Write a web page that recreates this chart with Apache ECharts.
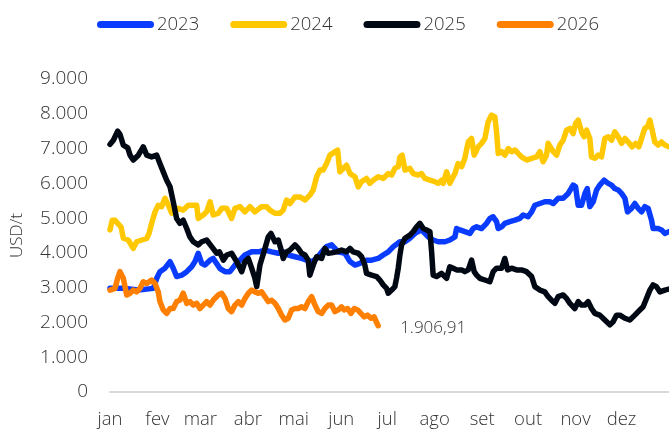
<!DOCTYPE html>
<html>
<head>
<meta charset="utf-8">
<script src="https://cdn.jsdelivr.net/npm/echarts@6/dist/echarts.min.js"></script>
<style>
  html, body { margin: 0; padding: 0; background: #ffffff; }
  #chart { width: 669px; height: 432px; }
</style>
</head>
<body>
<div id="chart"></div>
<script>
// Month labels (tick labels) and day-of-year where each month starts
const monthLabels = ['jan','fev','mar','abr','mai','jun','jul','ago','set','out','nov','dez'];
const monthStarts = [0,31,59,90,120,151,181,212,243,273,304,334];
const yTicks = [0,1000,2000,3000,4000,5000,6000,7000,8000,9000];
const seriesNames = ['2023','2024','2025','2026'];

// Series values: [day of year, USD/t]
const s2023 = [[0,2980],[9.8,2980],[18.5,2930],[28.3,2980],[30.5,3270],[32.6,3460],[35.9,3560],[39.2,3750],[41.3,3560],[43.5,3320],[46.8,3360],[50.1,3460],[53.3,3600],[55.5,3750],[57.6,3990],[59.9,3700],[62.0,3650],[65.3,3790],[67.4,3840],[68.5,3800],[71.8,3550],[75.1,3460],[78.3,3460],[81.6,3650],[84.9,3790],[88.1,3940],[92.5,4030],[96.8,4030],[101.2,4080],[105.5,4030],[109.9,3990],[113.1,4030],[116.4,3940],[120.8,3890],[125.1,3840],[128.4,3790],[131.7,3750],[134.9,3840],[138.2,4030],[141.4,4180],[144.7,4230],[149.0,4030],[153.4,3990],[156.7,3750],[159.9,3650],[163.2,3700],[167.5,3790],[170.8,3790],[175.1,3840],[178.4,3940],[181.7,4030],[185.0,4180],[189.3,4320],[192.6,4320],[195.8,4420],[199.1,4560],[203.4,4660],[205.6,4560],[207.8,4460],[211.0,4370],[214.3,4320],[218.7,4320],[221.9,4370],[225.2,4460],[226.3,4700],[228.5,4660],[231.7,4610],[235.0,4560],[237.1,4700],[239.4,4750],[242.6,4700],[245.9,4850],[248.0,4990],[250.2,5040],[252.4,4900],[253.5,4700],[255.7,4750],[257.8,4850],[261.1,4900],[264.4,4940],[267.6,4990],[269.8,5090],[273.0,5040],[275.3,5180],[277.4,5370],[280.7,5420],[283.9,5470],[287.2,5470],[289.4,5420],[292.6,5570],[295.9,5570],[299.2,5710],[302.4,5950],[304.0,5900],[305.7,5370],[307.9,5370],[310.1,5710],[311.6,5850],[313.3,5330],[315.5,5470],[317.7,5810],[319.8,5950],[322.6,6090],[325.3,6000],[327.5,5950],[329.6,5850],[331.8,5810],[334.0,5710],[336.2,5570],[337.9,5180],[340.5,5280],[342.7,5420],[344.9,5280],[347.1,5180],[349.2,5330],[351.4,5280],[353.6,4940],[354.6,4700],[357.9,4700],[360.1,4660],[362.3,4560],[364.9,4610]];

const s2024 = [[0,4660],[1.5,4940],[3.3,4940],[5.0,4850],[7.2,4750],[8.7,4420],[11.9,4370],[15.2,4130],[17.4,4320],[20.7,4370],[24.0,4420],[25.5,4560],[27.2,4850],[29.4,5180],[31.5,5370],[33.7,5330],[35.9,5570],[38.1,5370],[40.3,5140],[42.4,5180],[44.6,5280],[47.8,5230],[51.1,5370],[53.3,5370],[56.6,5370],[57.6,4990],[60.9,5090],[63.1,5180],[65.3,5470],[67.4,5090],[70.7,5140],[72.9,5280],[76.2,5280],[79.4,4990],[81.6,5280],[84.9,5330],[88.1,5180],[91.4,5330],[94.6,5180],[99.0,5330],[102.3,5330],[104.4,5230],[107.7,5140],[111.0,5140],[113.1,5230],[115.3,5520],[117.5,5420],[120.8,5610],[124.0,5610],[127.3,5520],[130.5,5660],[132.7,5810],[134.9,6190],[137.1,6380],[139.2,6380],[141.4,6570],[143.6,6810],[144.9,6860],[148.6,6955],[150.1,6330],[152.3,6430],[154.5,6520],[156.7,6280],[159.9,6190],[162.1,5900],[164.3,6050],[167.5,6140],[169.7,6000],[171.9,6090],[175.1,6190],[178.4,6140],[181.7,6280],[183.9,6240],[186.0,6430],[188.2,6480],[189.3,6760],[190.8,6810],[192.6,6380],[195.8,6430],[198.0,6280],[201.2,6240],[203.4,6280],[205.6,6140],[208.9,6090],[212.1,6050],[214.3,6000],[216.5,6090],[217.6,6000],[219.8,6330],[221.9,6000],[225.2,6280],[227.3,6570],[229.6,6480],[231.7,6720],[233.9,7190],[236.1,7290],[237.8,6810],[240.4,7050],[242.6,7150],[244.8,7290],[246.9,7770],[249.1,7960],[251.3,7910],[252.4,7480],[253.5,6860],[255.7,6910],[257.8,6810],[260.0,7000],[262.2,6910],[264.4,6960],[266.5,6860],[268.7,6760],[272.0,6670],[275.3,6720],[278.5,6760],[280.7,6910],[282.8,6620],[285.0,6810],[286.1,7150],[287.2,7100],[289.4,6910],[291.6,6810],[293.7,7100],[295.9,7240],[298.1,7530],[300.3,7580],[302.4,7430],[304.0,7720],[305.7,7820],[307.9,7480],[309.6,7340],[311.2,7530],[313.3,7290],[314.4,6760],[316.6,6720],[318.7,6810],[320.9,6760],[323.1,7290],[325.3,7340],[327.5,7240],[329.6,7480],[331.8,7340],[334.0,7150],[336.2,7290],[338.3,7190],[340.9,7050],[343.2,7150],[345.3,7050],[347.1,7290],[349.2,7580],[351.0,7630],[352.5,7820],[354.0,7530],[355.7,7190],[357.9,7100],[360.1,7190],[362.3,7100],[364.9,7050]];

const s2025 = [[0,7120],[2.2,7240],[5.0,7500],[6.5,7410],[8.7,7100],[11.6,7020],[13.1,6810],[15.2,6670],[18.5,6810],[21.7,7050],[24.0,6810],[27.2,6760],[30.5,6810],[32.6,6570],[34.8,6330],[37.0,6090],[39.2,5900],[41.3,5470],[43.5,4990],[45.7,4850],[47.8,4940],[50.1,4700],[52.2,4460],[54.4,4320],[57.6,4230],[59.9,4320],[63.1,4370],[66.4,4180],[69.6,3990],[71.5,4030],[74.0,3790],[76.2,3940],[79.4,3990],[82.7,3750],[86.0,3460],[88.1,3750],[90.3,3840],[92.5,3560],[94.6,3270],[95.8,3030],[97.9,3650],[101.2,4130],[103.3,4460],[105.1,4560],[107.7,4320],[109.9,4370],[112.1,4030],[113.1,3840],[115.3,4030],[117.5,4080],[120.8,4230],[122.9,4130],[125.1,3990],[127.3,3940],[129.4,3790],[130.5,3360],[132.7,3650],[134.9,3890],[138.2,3840],[140.3,4130],[142.5,3990],[144.7,4000],[148.0,4030],[151.2,4080],[154.5,4030],[156.7,4130],[158.8,4030],[162.1,3990],[164.3,3890],[166.4,3650],[167.5,3410],[170.8,3360],[174.1,3320],[176.2,3220],[178.4,3080],[180.6,2980],[181.7,2840],[183.9,2930],[186.0,3030],[187.1,3270],[188.2,3560],[189.3,3940],[190.4,4230],[192.6,4420],[195.8,4510],[198.0,4610],[200.2,4750],[202.3,4850],[204.5,4700],[206.7,4660],[208.9,4610],[210.0,4030],[211.0,3360],[213.2,3320],[214.3,3360],[216.5,3410],[219.8,3270],[221.9,3600],[224.1,3560],[226.3,3510],[229.6,3510],[231.7,3460],[233.9,3510],[236.1,3790],[237.8,3460],[239.4,3360],[241.5,3270],[244.8,3220],[248.0,3170],[250.2,3460],[252.4,3560],[255.7,3560],[257.8,3840],[259.6,3510],[262.2,3560],[265.5,3510],[268.7,3510],[272.0,3460],[275.3,3320],[277.4,3030],[280.7,2930],[283.9,2880],[286.1,2740],[288.3,2640],[290.5,2550],[292.6,2740],[295.9,2790],[298.1,2690],[300.3,2550],[303.5,2400],[305.7,2600],[307.9,2500],[310.1,2500],[312.2,2600],[314.4,2400],[316.6,2260],[319.8,2210],[323.1,2070],[326.4,1930],[328.5,2020],[330.7,2210],[332.9,2210],[336.2,2120],[339.4,2070],[342.7,2210],[344.9,2310],[348.1,2450],[350.3,2690],[352.5,2930],[354.6,3080],[356.8,3030],[359.0,2880],[362.3,2930],[364.9,2960]];

const s2026 = [[0,2930],[3.3,2980],[5.0,3270],[6.5,3460],[8.7,3270],[10.9,2790],[13.1,2840],[15.2,2930],[17.4,2880],[19.6,2980],[21.7,3170],[24.0,3120],[27.2,3220],[29.4,3120],[31.5,2880],[32.6,2600],[34.8,2360],[37.0,2260],[39.2,2400],[41.3,2400],[43.5,2600],[45.7,2640],[47.8,2840],[50.1,2550],[52.2,2600],[54.4,2500],[56.6,2550],[58.7,2400],[60.9,2500],[63.1,2600],[65.3,2500],[67.4,2640],[70.7,2790],[72.9,2840],[75.1,2690],[77.2,2400],[79.4,2310],[81.6,2500],[83.8,2600],[86.0,2500],[88.1,2690],[90.3,2840],[92.5,2930],[94.6,2880],[96.8,2840],[99.0,2880],[101.2,2740],[103.3,2600],[105.5,2640],[107.7,2550],[109.9,2400],[112.1,2210],[114.2,2070],[116.4,2120],[118.6,2360],[120.8,2400],[122.9,2400],[125.1,2450],[127.3,2400],[129.4,2600],[131.7,2740],[133.8,2500],[136.0,2310],[138.2,2260],[140.3,2400],[142.5,2500],[144.7,2500],[146.9,2310],[149.0,2360],[151.2,2450],[152.9,2360],[155.1,2400],[157.3,2260],[159.5,2400],[161.7,2360],[163.8,2260],[166.0,2160],[168.2,2210],[170.4,2120],[172.5,2160],[173.6,2040],[175.1,1906.91]];

const colors = ['#0A3CFF', '#FFC800', '#000814', '#FF7F00'];
const FONT = '"Open Sans", "Noto Sans", sans-serif';
const TXT = '#333333';
const WEIGHT = 350;

function fmtPt(v, dec) {
  const fixed = Number(v).toFixed(dec);
  const parts = fixed.split('.');
  const intPart = parts[0].replace(/\B(?=(\d{3})+(?!\d))/g, '.');
  return parts.length > 1 ? intPart + ',' + parts[1] : intPart;
}

const allData = [s2023, s2024, s2025, s2026];
const series = seriesNames.map((name, i) => {
  const s = {
    name: name, type: 'line', data: allData[i].map(p => [p[0], p[1]]),
    showSymbol: false, symbol: 'none', smooth: false,
    lineStyle: { width: 5.5, color: colors[i], cap: 'round', join: 'round' },
    itemStyle: { color: colors[i] },
    emphasis: { disabled: true },
    animation: false,
    z: 2 + i
  };
  if (i === 3) {
    s.endLabel = {
      show: true, distance: 22, offset: [0, 2],
      formatter: (p) => fmtPt(p.value[1], 2),
      fontFamily: FONT, fontSize: 17, fontWeight: WEIGHT, color: TXT
    };
  }
  return s;
});

const chart = echarts.init(document.getElementById('chart'), null, { renderer: 'canvas' });
chart.setOption({
  backgroundColor: '#ffffff',
  animation: false,
  color: colors,
  legend: {
    data: seriesNames,
    left: 92, top: 10,
    itemWidth: 57, itemHeight: 7, itemGap: 31,
    icon: 'path://M3.5,0 L53.5,0 A3.5,3.5 0 0 1 53.5,7 L3.5,7 A3.5,3.5 0 0 1 3.5,0 Z',
    textStyle: { fontFamily: FONT, fontSize: 18.5, fontWeight: WEIGHT, color: TXT, padding: [0, 0, 0, -2] },
    selectedMode: false
  },
  grid: { left: 110, right: 0, top: 79, bottom: 40, containLabel: false },
  xAxis: {
    type: 'value', min: 0, max: 365,
    axisLine: { show: true, lineStyle: { color: '#D9D9D9', width: 2 } },
    axisTick: { show: false },
    splitLine: { show: false },
    axisLabel: {
      customValues: monthStarts,
      formatter: (v) => { const k = monthStarts.indexOf(Math.round(v)); return k >= 0 ? monthLabels[k] : ''; },
      fontFamily: FONT, fontSize: 18.5, fontWeight: WEIGHT, color: TXT, margin: 18
    }
  },
  yAxis: {
    type: 'value', min: 0, max: 9000, interval: 1000,
    name: 'USD/t', nameLocation: 'middle', nameGap: 84, nameRotate: 90,
    nameTextStyle: { fontFamily: FONT, fontSize: 17, fontWeight: WEIGHT, color: TXT },
    axisLine: { show: false }, axisTick: { show: false },
    splitLine: { show: false },
    axisLabel: {
      customValues: yTicks,
      formatter: (v) => fmtPt(v, 0),
      fontFamily: FONT, fontSize: 19, fontWeight: WEIGHT, color: TXT, margin: 22
    }
  },
  series: series
});
</script>
</body>
</html>
